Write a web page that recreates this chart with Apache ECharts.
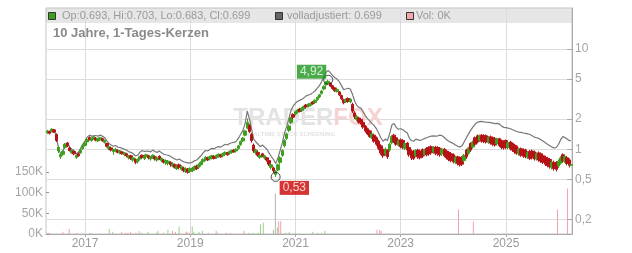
<!DOCTYPE html>
<html><head><meta charset="utf-8">
<script src="https://cdn.jsdelivr.net/npm/echarts@6/dist/echarts.min.js"></script>
<style>html,body{margin:0;padding:0;background:#fff}#c{width:632px;height:253px}</style>
</head><body><div id="c"></div>
<script>
const dates = [
'2016-04-16','2016-05-01','2016-05-16','2016-06-01','2016-06-16','2016-07-01','2016-07-16','2016-08-01','2016-08-16','2016-09-01','2016-09-16','2016-10-01','2016-10-16','2016-11-01','2016-11-16','2016-12-01','2016-12-16',
'2017-01-01','2017-01-16','2017-02-01','2017-02-16','2017-03-01','2017-03-16','2017-04-01','2017-04-16','2017-05-01','2017-05-16','2017-06-01','2017-06-16','2017-07-01','2017-07-16','2017-08-01','2017-08-16','2017-09-01','2017-09-16','2017-10-01','2017-10-16','2017-11-01','2017-11-16','2017-12-01','2017-12-16',
'2018-01-01','2018-01-16','2018-02-01','2018-02-16','2018-03-01','2018-03-16','2018-04-01','2018-04-16','2018-05-01','2018-05-16','2018-06-01','2018-06-16','2018-07-01','2018-07-16','2018-08-01','2018-08-16','2018-09-01','2018-09-16','2018-10-01','2018-10-16','2018-11-01','2018-11-16','2018-12-01','2018-12-16',
'2019-01-01','2019-01-16','2019-02-01','2019-02-16','2019-03-01','2019-03-16','2019-04-01','2019-04-16','2019-05-01','2019-05-16','2019-06-01','2019-06-16','2019-07-01','2019-07-16','2019-08-01','2019-08-16','2019-09-01','2019-09-16','2019-10-01','2019-10-16','2019-11-01','2019-11-16','2019-12-01','2019-12-16',
'2020-01-01','2020-01-16','2020-02-01','2020-02-16','2020-03-01','2020-03-16','2020-04-01','2020-04-16','2020-05-01','2020-05-16','2020-06-01','2020-06-16','2020-07-01','2020-07-16','2020-08-01','2020-08-16','2020-09-01','2020-09-16','2020-10-01','2020-10-16','2020-11-01','2020-11-16','2020-12-01','2020-12-16',
'2021-01-01','2021-01-16','2021-02-01','2021-02-16','2021-03-01','2021-03-16','2021-04-01','2021-04-16','2021-05-01','2021-05-16','2021-06-01','2021-06-16','2021-07-01','2021-07-16','2021-08-01','2021-08-16','2021-09-01','2021-09-16','2021-10-01','2021-10-16','2021-11-01','2021-11-16','2021-12-01','2021-12-16',
'2022-01-01','2022-01-16','2022-02-01','2022-02-16','2022-03-01','2022-03-16','2022-04-01','2022-04-16','2022-05-01','2022-05-16','2022-06-01','2022-06-16','2022-07-01','2022-07-16','2022-08-01','2022-08-16','2022-09-01','2022-09-16','2022-10-01','2022-10-16','2022-11-01','2022-11-16','2022-12-01','2022-12-16',
'2023-01-01','2023-01-16','2023-02-01','2023-02-16','2023-03-01','2023-03-16','2023-04-01','2023-04-16','2023-05-01','2023-05-16','2023-06-01','2023-06-16','2023-07-01','2023-07-16','2023-08-01','2023-08-16','2023-09-01','2023-09-16','2023-10-01','2023-10-16','2023-11-01','2023-11-16','2023-12-01','2023-12-16',
'2024-01-01','2024-01-16','2024-02-01','2024-02-16','2024-03-01','2024-03-16','2024-04-01','2024-04-16','2024-05-01','2024-05-16','2024-06-01','2024-06-16','2024-07-01','2024-07-16','2024-08-01','2024-08-16','2024-09-01','2024-09-16','2024-10-01','2024-10-16','2024-11-01','2024-11-16','2024-12-01','2024-12-16',
'2025-01-01','2025-01-16','2025-02-01','2025-02-16','2025-03-01','2025-03-16','2025-04-01','2025-04-16','2025-05-01','2025-05-16','2025-06-01','2025-06-16','2025-07-01','2025-07-16','2025-08-01','2025-08-16','2025-09-01','2025-09-16','2025-10-01','2025-10-16','2025-11-01','2025-11-16','2025-12-01','2025-12-16',
'2026-01-01','2026-01-16','2026-02-01','2026-02-16','2026-03-01','2026-03-16','2026-03-27'
];
// [open, close, low, high]
const ohlc = [
[1.46,1.52,1.42,1.56],[1.50,1.44,1.40,1.53],[1.50,1.58,1.47,1.62],[1.56,1.48,1.45,1.59],[1.40,1.22,1.18,1.44],[0.96,1.04,0.92,1.08],[0.84,0.88,0.80,0.92],[0.89,0.95,0.86,0.98],[1.04,1.12,1.01,1.15],[1.15,1.08,1.05,1.18],[1.03,0.97,0.95,1.06],[0.92,0.97,0.90,1.00],[0.95,0.90,0.87,0.97],[0.83,0.87,0.80,0.89],[0.90,0.86,0.84,0.93],[0.92,0.98,0.90,1.00],[1.01,1.08,0.99,1.10],
[1.09,1.15,1.06,1.18],[1.18,1.25,1.15,1.28],[1.31,1.25,1.22,1.34],[1.22,1.28,1.19,1.31],[1.27,1.33,1.24,1.36],[1.29,1.23,1.20,1.32],[1.21,1.27,1.18,1.30],[1.24,1.30,1.21,1.32],[1.27,1.21,1.19,1.30],[1.17,1.22,1.14,1.25],[1.14,1.07,1.04,1.16],[1.01,1.06,0.98,1.09],[1.03,0.98,0.95,1.05],[0.95,0.99,0.88,1.01],[0.96,1.00,0.93,1.03],[0.97,0.93,0.91,1.00],[0.92,0.96,0.89,0.98],[0.94,0.90,0.88,0.96],[0.88,0.92,0.85,0.94],[0.90,0.86,0.83,0.92],[0.82,0.86,0.79,0.88],[0.86,0.81,0.78,0.88],[0.78,0.82,0.75,0.84],[0.79,0.74,0.71,0.81],
[0.75,0.79,0.72,0.81],[0.80,0.84,0.77,0.86],[0.87,0.83,0.80,0.89],[0.81,0.85,0.78,0.87],[0.84,0.88,0.81,0.90],[0.86,0.82,0.79,0.88],[0.80,0.84,0.77,0.86],[0.83,0.87,0.80,0.89],[0.84,0.80,0.77,0.86],[0.78,0.82,0.75,0.84],[0.85,0.81,0.78,0.87],[0.77,0.81,0.74,0.83],[0.78,0.74,0.72,0.80],[0.73,0.77,0.70,0.79],[0.72,0.76,0.69,0.78],[0.74,0.70,0.67,0.76],[0.68,0.72,0.66,0.74],[0.70,0.66,0.64,0.72],[0.64,0.68,0.62,0.70],[0.70,0.66,0.63,0.72],[0.63,0.67,0.61,0.69],[0.65,0.61,0.59,0.67],[0.60,0.64,0.58,0.66],[0.63,0.59,0.57,0.65],
[0.60,0.64,0.58,0.66],[0.61,0.65,0.59,0.67],[0.63,0.67,0.61,0.69],[0.68,0.64,0.62,0.70],[0.66,0.70,0.64,0.72],[0.70,0.74,0.67,0.76],[0.75,0.79,0.72,0.81],[0.79,0.83,0.76,0.85],[0.82,0.78,0.76,0.84],[0.80,0.84,0.77,0.86],[0.82,0.86,0.79,0.88],[0.85,0.81,0.79,0.87],[0.83,0.87,0.80,0.89],[0.85,0.89,0.82,0.91],[0.88,0.84,0.82,0.90],[0.86,0.90,0.83,0.92],[0.89,0.93,0.86,0.95],[0.92,0.88,0.86,0.94],[0.91,0.95,0.88,0.97],[0.93,0.97,0.90,0.99],[0.98,0.94,0.92,1.00],[0.96,1.00,0.93,1.02],[1.02,1.08,0.99,1.10],[1.11,1.19,1.08,1.22],
[1.21,1.29,1.18,1.32],[1.38,1.52,1.34,1.56],[1.62,1.85,1.58,2.02],[1.72,1.50,1.45,1.78],[1.40,1.22,1.16,1.45],[1.10,0.96,0.92,1.14],[0.92,0.98,0.88,1.01],[0.93,0.87,0.84,0.96],[0.83,0.87,0.80,0.90],[0.90,0.86,0.83,0.92],[0.82,0.86,0.79,0.88],[0.82,0.78,0.75,0.84],[0.77,0.71,0.68,0.79],[0.66,0.70,0.63,0.72],[0.65,0.61,0.58,0.67],[0.56,0.60,0.53,0.62],[0.62,0.70,0.60,0.72],[0.74,0.82,0.71,0.85],[0.87,0.97,0.84,1.00],[1.08,1.22,1.04,1.26],[1.28,1.42,1.24,1.46],[1.54,1.70,1.48,1.75],[1.85,2.05,1.78,2.10],[2.22,2.08,2.00,2.28],
[2.24,2.36,2.16,2.42],[2.34,2.46,2.26,2.52],[2.52,2.38,2.32,2.58],[2.44,2.56,2.36,2.62],[2.54,2.66,2.46,2.72],[2.76,2.64,2.56,2.82],[2.68,2.82,2.60,2.88],[2.74,2.86,2.66,2.92],[2.96,2.84,2.76,3.02],[2.92,3.08,2.85,3.14],[3.12,3.28,3.04,3.36],[3.32,3.48,3.22,3.56],[3.60,3.80,3.50,3.90],[3.98,4.22,3.86,4.32],[4.38,4.62,4.25,4.75],[4.55,4.75,4.40,4.92],[4.55,4.25,4.15,4.62],[4.28,4.02,3.92,4.36],[4.08,3.82,3.72,4.15],[3.76,3.94,3.66,4.02],[3.72,3.48,3.38,3.80],[3.42,3.18,3.08,3.50],[3.12,2.90,2.80,3.18],[2.96,3.14,2.88,3.20],
[3.20,3.00,2.90,3.28],[2.96,3.14,2.88,3.22],[2.80,2.40,2.30,2.90],[2.30,2.10,2.00,2.40],[1.98,2.12,1.90,2.20],[2.05,1.86,1.80,2.10],[1.98,1.82,1.76,2.02],[1.85,1.66,1.60,1.90],[1.70,1.52,1.46,1.74],[1.60,1.42,1.38,1.64],[1.52,1.34,1.30,1.56],[1.30,1.42,1.26,1.46],[1.38,1.20,1.16,1.42],[1.30,1.12,1.08,1.34],[1.20,1.02,0.98,1.24],[1.08,0.92,0.88,1.12],[1.00,0.86,0.82,1.04],[0.90,1.00,0.86,1.04],[0.98,0.84,0.80,1.00],[0.98,1.12,0.94,1.16],[1.16,1.34,1.12,1.38],[1.38,1.20,1.16,1.42],[1.30,1.12,1.08,1.34],[1.10,1.22,1.06,1.26],
[1.24,1.06,1.02,1.28],[1.22,1.04,1.00,1.26],[1.02,1.14,0.98,1.18],[1.15,0.98,0.94,1.18],[1.04,0.88,0.84,1.08],[0.96,0.82,0.78,0.99],[0.95,0.81,0.78,0.98],[0.86,0.97,0.83,1.00],[0.98,0.84,0.80,1.01],[0.96,0.82,0.79,0.99],[0.99,0.85,0.82,1.02],[0.88,0.98,0.85,1.01],[1.02,0.88,0.85,1.05],[1.04,0.90,0.86,1.07],[1.06,0.92,0.88,1.09],[0.94,1.04,0.90,1.07],[1.05,0.91,0.87,1.08],[1.04,0.90,0.86,1.07],[1.02,0.88,0.84,1.05],[0.90,1.00,0.86,1.03],[1.00,0.86,0.83,1.03],[0.96,0.82,0.79,0.99],[0.93,0.79,0.76,0.96],[0.90,0.77,0.74,0.93],
[0.88,0.75,0.72,0.91],[0.74,0.83,0.71,0.86],[0.84,0.72,0.69,0.86],[0.82,0.70,0.67,0.84],[0.83,0.71,0.68,0.85],[0.77,0.87,0.74,0.90],[0.98,0.84,0.80,1.01],[0.91,1.03,0.88,1.06],[1.14,0.98,0.94,1.17],[1.05,1.18,1.01,1.22],[1.30,1.12,1.08,1.34],[1.36,1.18,1.14,1.40],[1.22,1.36,1.18,1.40],[1.38,1.20,1.16,1.42],[1.37,1.19,1.15,1.41],[1.36,1.18,1.14,1.40],[1.17,1.31,1.13,1.35],[1.33,1.15,1.11,1.37],[1.30,1.12,1.08,1.34],[1.28,1.10,1.06,1.32],[1.13,1.27,1.09,1.30],[1.27,1.09,1.05,1.30],[1.22,1.04,1.00,1.25],[1.20,1.03,0.99,1.23],
[1.22,1.04,1.00,1.25],[1.04,1.16,1.00,1.20],[1.18,1.01,0.97,1.21],[1.14,0.98,0.94,1.17],[1.10,0.94,0.90,1.13],[1.07,0.91,0.88,1.10],[0.90,1.00,0.86,1.04],[1.01,0.87,0.84,1.04],[0.99,0.85,0.82,1.02],[0.98,0.84,0.81,1.01],[0.83,0.93,0.80,0.96],[0.95,0.81,0.78,0.98],[0.96,0.82,0.79,0.99],[0.94,0.80,0.77,0.97],[0.80,0.90,0.77,0.93],[0.92,0.78,0.75,0.95],[0.90,0.76,0.73,0.93],[0.86,0.74,0.71,0.89],[0.83,0.71,0.68,0.86],[0.81,0.69,0.66,0.84],[0.79,0.67,0.64,0.82],[0.66,0.74,0.63,0.77],[0.74,0.64,0.61,0.77],[0.73,0.63,0.60,0.76],
[0.68,0.76,0.65,0.79],[0.73,0.82,0.70,0.85],[0.88,0.77,0.74,0.91],[0.76,0.85,0.73,0.87],[0.82,0.72,0.69,0.85],[0.78,0.69,0.66,0.81],[0.693,0.699,0.683,0.703]
];
const adjusted = [
1.50,1.47,1.57,1.54,1.33,1.02,0.89,0.95,1.12,1.16,1.05,1.00,0.97,0.90,0.93,1.02,1.12,
1.21,1.32,1.38,1.35,1.41,1.37,1.35,1.38,1.35,1.31,1.21,1.14,1.10,1.07,1.09,1.05,1.04,1.02,1.00,0.98,0.94,0.93,0.90,0.86,
0.87,0.93,0.97,0.95,0.98,0.96,0.94,0.98,0.95,0.93,0.96,0.92,0.89,0.88,0.87,0.85,0.82,0.80,0.78,0.80,0.77,0.75,0.74,0.73,
0.73,0.74,0.77,0.78,0.81,0.86,0.92,0.97,0.96,0.99,1.02,1.01,1.04,1.06,1.05,1.08,1.12,1.10,1.14,1.16,1.17,1.20,1.28,1.40,
1.53,1.78,2.40,2.00,1.62,1.27,1.18,1.12,1.06,1.10,1.05,1.00,0.92,0.85,0.79,0.72,0.82,0.97,1.15,1.44,1.69,2.03,2.44,2.69,
2.88,3.00,3.08,3.15,3.28,3.40,3.47,3.53,3.66,3.80,4.05,4.30,4.70,5.25,5.85,6.10,5.75,5.40,5.15,5.00,4.70,4.30,3.92,3.98,
4.05,3.98,3.50,3.00,2.75,2.62,2.55,2.35,2.15,2.02,1.90,1.80,1.72,1.60,1.45,1.30,1.20,1.26,1.22,1.42,1.75,1.80,1.65,1.58,
1.60,1.56,1.50,1.45,1.30,1.22,1.20,1.26,1.24,1.22,1.25,1.28,1.30,1.33,1.35,1.36,1.35,1.36,1.38,1.36,1.30,1.24,1.20,1.17,
1.14,1.10,1.07,1.05,1.08,1.18,1.30,1.42,1.55,1.66,1.78,1.85,1.88,1.89,1.87,1.86,1.85,1.84,1.82,1.80,1.81,1.78,1.70,1.65,
1.64,1.62,1.60,1.56,1.52,1.50,1.48,1.47,1.45,1.44,1.42,1.40,1.36,1.32,1.30,1.28,1.24,1.20,1.16,1.12,1.08,1.05,1.03,1.04,
1.12,1.25,1.34,1.30,1.26,1.22,1.22
];
const volUp = [
['2016-04-20',3000],['2017-02-05',3000],['2017-06-18',13000],['2017-07-12',5500],['2018-01-29',3000],['2018-03-14',5500],['2018-05-12',3000],['2018-05-22',8000],['2018-07-30',10500],['2018-10-16',18000],['2019-01-15',18000],['2019-01-26',5500],['2019-03-03',5500],['2019-03-27',8000],['2019-07-12',3000],['2020-02-14',3000],['2020-03-14',3000],['2020-04-16',3000],['2020-05-03',23000],['2020-05-22',28000],['2020-08-28',16000],['2020-10-27',3000],['2020-11-18',5500],['2020-12-28',3000],['2021-05-01',5500],['2021-06-04',3000],['2021-07-01',3000],['2021-07-23',8000]
];
const volDown = [
['2016-05-01',2500],['2016-07-31',5500],['2016-09-13',13000],['2016-11-06',3000],['2017-09-12',5500],['2017-10-12',3000],['2017-10-26',3000],['2017-11-13',5500],['2017-12-20',3000],['2018-01-11',6500],['2018-06-30',3000],['2018-08-31',8000],['2018-09-20',5500],['2018-12-03',5500],['2018-12-10',5500],['2018-12-24',3000],['2019-05-06',3000],['2019-06-30',8000],['2019-09-09',3000],['2019-10-09',3000],['2020-01-08',8000],['2020-09-06',31000],['2020-09-20',31000],['2022-07-20',10000],['2022-08-08',10000],['2022-08-18',7000],['2024-02-06',59000],['2024-05-19',30000],['2025-12-24',59000],['2026-03-04',110000]
];
const volFlat = [['2020-07-31',10000],['2020-08-14',98000]];
const priceTicks = [0.2, 0.5, 1, 2, 5, 10];
const yearTicks = ['2017-01-01','2019-01-01','2021-01-01','2023-01-01','2025-01-01'];
const xRange = ['2016-04-05','2026-04-04'];
const highPoint = ['2021-08-16', 4.92];
const lowPoint = ['2020-08-16', 0.53];
const titleText = '10 Jahre, 1-Tages-Kerzen';
const legendQuote = 'Op:0.693, Hi:0.703, Lo:0.683, Cl:0.699';
const legendAdj = 'volladjustiert: 0.699';
const legendVol = 'Vol: 0K';

const ts = s => Date.parse(s + 'T00:00:00Z');
const GREEN = '#3e9e1e', RED = '#b51218';
const FONT = '"Liberation Sans", Arial, sans-serif';
const chart = echarts.init(document.getElementById('c'), null, {renderer:'canvas'});
const fmtNum = v => String(Math.round(v*10)/10).replace('.', ',');
const fmtNum2 = v => v.toFixed(2).replace('.', ',');
const yearTickTs = yearTicks.map(ts);
chart.setOption({
  animation: false,
  backgroundColor: '#fff',
  textStyle: {fontFamily: FONT},
  grid: [
    {left:46, right:60, top:8, bottom:19, show:true, borderColor:'#c4c4c4', borderWidth:1, backgroundColor:'transparent'},
    {left:46, right:60, top:172, bottom:19}
  ],
  xAxis: [
    {type:'value', gridIndex:0, min:ts(xRange[0]), max:ts(xRange[1]),
     axisLine:{show:true, lineStyle:{color:'#aaa'}},
     axisTick:{show:true, customValues:yearTickTs, length:3, lineStyle:{color:'#aaa'}},
     axisLabel:{customValues:yearTickTs, formatter: v => String(new Date(v).getUTCFullYear()), color:'#999', fontSize:12, margin:4, fontFamily:FONT},
     splitLine:{show:true, lineStyle:{color:'#dcdcdc'}}},
    {type:'value', gridIndex:1, min:ts(xRange[0]), max:ts(xRange[1]), show:false, splitLine:{show:false}}
  ],
  yAxis: [
    {type:'log', gridIndex:0, position:'right', min:0.143, max:25.5, logBase:10,
     axisLine:{show:true, lineStyle:{color:'#aaa'}},
     axisTick:{show:true, inside:true, length:5, customValues:priceTicks, lineStyle:{color:'#aaa'}},
     axisLabel:{customValues:priceTicks, formatter: fmtNum, color:'#a5a5a5', fontSize:12, margin:3, fontFamily:FONT},
     splitLine:{show:true, lineStyle:{color:'#dcdcdc'}}},
    {type:'value', gridIndex:1, position:'left', min:0, max:150000, interval:50000,
     axisLine:{show:false},
     axisTick:{show:true, inside:true, length:3, lineStyle:{color:'#999'}},
     axisLabel:{formatter: v => (v/1000) + 'K', color:'#a5a5a5', fontSize:12, margin:3, fontFamily:FONT},
     splitLine:{show:false}}
  ],
  graphic: [
    {type:'rect', z:-5, shape:{x:46, y:8, width:526, height:15}, style:{fill:'#e6e6e6'}},
    {type:'text', z:1, x:308, y:118, style:{text:'{a|TRADER}{b|FOX}', align:'center', verticalAlign:'middle',
      rich:{a:{font:'bold 24px ' + FONT, fill:'#e3e3e3'}, b:{font:'bold 24px ' + FONT, fill:'#f6d3d3'}}}},
    {type:'text', z:1, x:290, y:134, style:{text:'REALTIME STOCK SCREENING', align:'center', verticalAlign:'middle', font:'bold 6px ' + FONT, fill:'#e2e2e2'}},
    {type:'rect', z:10, shape:{x:48.5, y:12.5, width:7, height:7}, style:{fill:GREEN, stroke:'#333', lineWidth:1}},
    {type:'text', z:10, x:62, y:16, style:{text:legendQuote, verticalAlign:'middle', font:'11px ' + FONT, fill:'#9a9a9a'}},
    {type:'rect', z:10, shape:{x:275.5, y:12.5, width:7, height:7}, style:{fill:'#666', stroke:'#333', lineWidth:1}},
    {type:'text', z:10, x:287, y:16, style:{text:legendAdj, verticalAlign:'middle', font:'11px ' + FONT, fill:'#9a9a9a'}},
    {type:'rect', z:10, shape:{x:406.5, y:12.5, width:7, height:7}, style:{fill:'#f4a8ae', stroke:'#333', lineWidth:1}},
    {type:'text', z:10, x:416, y:16, style:{text:legendVol, verticalAlign:'middle', font:'11px ' + FONT, fill:'#9a9a9a'}},
    {type:'text', z:10, x:53, y:33, style:{text:titleText, verticalAlign:'middle', font:'bold 13px ' + FONT, fill:'#8a8a8a'}}
  ],
  series: [
    {type:'line', xAxisIndex:0, yAxisIndex:0, data: dates.map((d,i)=>[ts(d), adjusted[i]]),
     showSymbol:false, lineStyle:{color:'#777', width:1.2}, itemStyle:{color:'#777'}, z:2},
    {type:'candlestick', xAxisIndex:0, yAxisIndex:0, barWidth:3,
     data: dates.map((d,i)=>[ts(d)].concat(ohlc[i])), encode:{x:0, y:[1,2,3,4]},
     itemStyle:{color:GREEN, color0:RED, borderColor:GREEN, borderColor0:RED, borderWidth:1}, z:3},
    {type:'scatter', xAxisIndex:0, yAxisIndex:0, data:[[ts(highPoint[0]), highPoint[1]]], symbol:'circle', symbolSize:9, z:5,
     itemStyle:{color:'rgba(0,0,0,0)', borderColor:'#222', borderWidth:1},
     label:{show:true, position:'left', distance:0, offset:[3,-8], formatter: p => fmtNum2(p.value[1]),
       backgroundColor:'#1d961d', color:'#fff', fontSize:12, padding:[1,3,1,3], fontFamily:FONT}},
    {type:'scatter', xAxisIndex:0, yAxisIndex:0, data:[[ts(lowPoint[0]), lowPoint[1]]], symbol:'circle', symbolSize:9, z:5,
     itemStyle:{color:'rgba(0,0,0,0)', borderColor:'#222', borderWidth:1},
     label:{show:true, position:'right', distance:0, offset:[-1,11], formatter: p => fmtNum2(p.value[1]),
       backgroundColor:'#cc0000', color:'#fff', fontSize:12, padding:[1,3,1,3], fontFamily:FONT}},
    {type:'bar', xAxisIndex:1, yAxisIndex:1, stack:'vol', barWidth:1, data:volUp.map(r=>[ts(r[0]), r[1]]), itemStyle:{color:'#9ad48c'}},
    {type:'bar', xAxisIndex:1, yAxisIndex:1, stack:'vol', barWidth:1, data:volDown.map(r=>[ts(r[0]), r[1]]), itemStyle:{color:'#f0a2aa'}},
    {type:'bar', xAxisIndex:1, yAxisIndex:1, stack:'vol', barWidth:1, data:volFlat.map(r=>[ts(r[0]), r[1]]), itemStyle:{color:'#b4b4b4'}}
  ]
});
</script>
</body></html>
